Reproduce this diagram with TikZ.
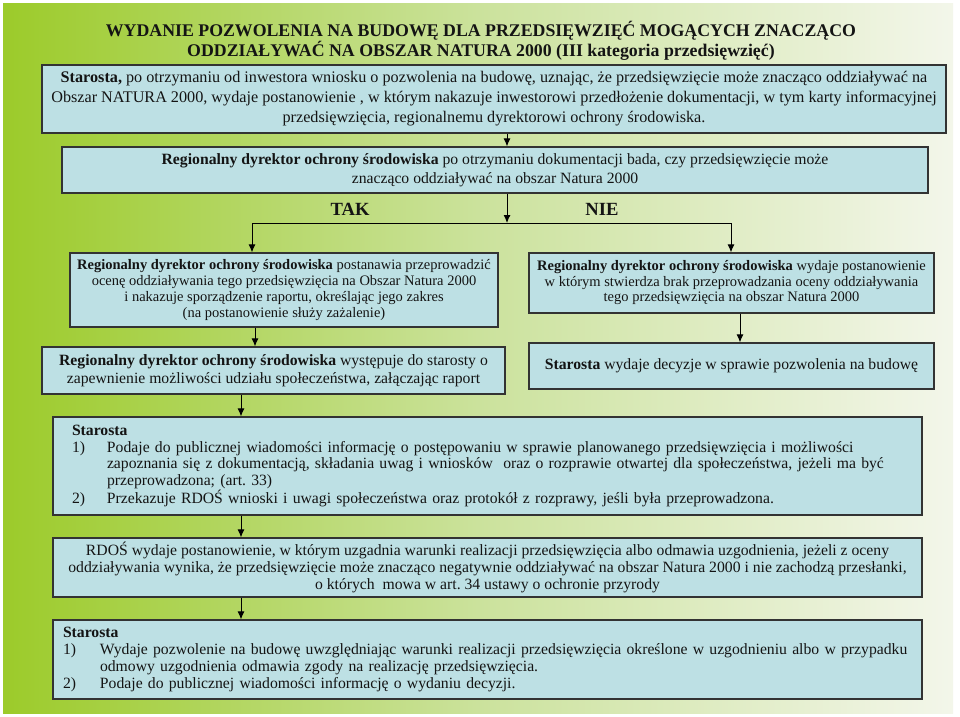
\documentclass[tikz,border=0pt]{standalone}
\usepackage{fontspec}
\setmainfont{Liberation Serif}
\usetikzlibrary{arrows.meta}
\definecolor{boxfill}{HTML}{BDE0E4}
\definecolor{boxline}{HTML}{333333}
\definecolor{gleft}{HTML}{9CCB2A}
\definecolor{gmid}{HTML}{CBE29C}
\definecolor{gright}{HTML}{F3F6EA}
\definecolor{txt}{HTML}{141414}
\frenchspacing
\begin{document}
\begin{tikzpicture}[x=1pt,y=-1pt,
  box/.style={draw=boxline, line width=1.2pt, fill=boxfill, inner sep=0pt, text=txt, align=center},
  arr/.style={-{Latex[length=8pt,width=7pt]}, line width=1pt, draw=black},
  plain/.style={line width=1pt, draw=black},
  lbl/.style={font=\fontsize{18.6}{20}\selectfont\bfseries, text=txt},
  body/.style={font=\fontsize{15.7}{#1}\selectfont},
  small/.style={font=\fontsize{14.5}{#1}\selectfont}]
\useasboundingbox (0,0) rectangle (960,716);
\fill[white] (0,0) rectangle (960,716);
\shade[left color=gleft, right color=gright, middle color=gmid] (3,3) rectangle (953,713);

\node[font=\fontsize{17.8}{19.5}\selectfont\bfseries, align=center, text=txt] (title) at (481,41)
  {WYDANIE POZWOLENIA NA BUDOWĘ DLA PRZEDSIĘWZIĘĆ MOGĄCYCH ZNACZĄCO\\
   ODDZIAŁYWAĆ NA OBSZAR NATURA 2000 (III kategoria przedsięwzięć)};

\node[box, font=\fontsize{16.2}{20}\selectfont, minimum width=904pt, minimum height=68pt] (b1) at (494,99)
  {\textbf{Starosta,} po otrzymaniu od inwestora wniosku o pozwolenia na budowę, uznając, że przedsięwzięcie może znacząco oddziaływać na\\
   Obszar NATURA 2000, wydaje postanowienie , w którym nakazuje inwestorowi przedłożenie dokumentacji, w tym karty informacyjnej\\
   przedsięwzięcia, regionalnemu dyrektorowi ochrony środowiska.};

\node[box, body=18.5, minimum width=866pt, minimum height=46pt] (b2) at (495,170)
  {\textbf{Regionalny dyrektor ochrony środowiska} po otrzymaniu dokumentacji bada, czy przedsięwzięcie może\\
   znacząco oddziaływać na obszar Natura 2000};

\node[lbl] (tak) at (350,209) {TAK};
\node[lbl] (nie) at (602,209) {NIE};

\node[box, small=15.7, minimum width=428pt, minimum height=74pt] (b3) at (284,290)
  {\textbf{Regionalny dyrektor ochrony środowiska} postanawia przeprowadzić\\
   ocenę oddziaływania tego przedsięwzięcia na Obszar Natura 2000\\
   i nakazuje sporządzenie raportu, określając jego zakres\\
   (na postanowienie służy zażalenie)};

\node[box, small=15.5, minimum width=405pt, minimum height=60pt] (b4) at (731.5,283)
  {\textbf{Regionalny dyrektor ochrony środowiska} wydaje postanowienie\\
   w którym stwierdza brak przeprowadzania oceny oddziaływania\\
   tego przedsięwzięcia na obszar Natura 2000};

\node[box, body=18, minimum width=463pt, minimum height=47pt] (b5) at (273.5,370.5)
  {\textbf{Regionalny dyrektor ochrony środowiska} występuje do starosty o\\
   zapewnienie możliwości udziału społeczeństwa, załączając raport};

\node[box, body=18, minimum width=405pt, minimum height=46pt] (b6) at (731.5,366)
  {\textbf{Starosta} wydaje decyzje w sprawie pozwolenia na budowę};

\node[box, body=16.7, minimum width=869pt, minimum height=98pt, inner xsep=19pt, text width=831pt, align=left] (b7) at (487.5,466)
  {\textbf{Starosta}\\
   \makebox[35pt][l]{1)}Podaje do publicznej wiadomości informację o postępowaniu w sprawie planowanego przedsięwzięcia i możliwości\\
   \hspace*{35pt}zapoznania się z dokumentacją, składania uwag i wniosków \ oraz o rozprawie otwartej dla społeczeństwa, jeżeli ma być\\
   \hspace*{35pt}przeprowadzona; (art. 33)\\
   \makebox[35pt][l]{2)}Przekazuje RDOŚ wnioski i uwagi społeczeństwa oraz protokół z rozprawy, jeśli była przeprowadzona.};

\node[box, body=17, minimum width=869pt, minimum height=59pt] (b8) at (487.5,567.5)
  {RDOŚ wydaje postanowienie, w którym uzgadnia warunki realizacji przedsięwzięcia albo odmawia uzgodnienia, jeżeli z oceny\\
   oddziaływania wynika, że przedsięwzięcie może znacząco negatywnie oddziaływać na obszar Natura 2000 i nie zachodzą przesłanki,\\
   o których \ mowa w art. 34 ustawy o ochronie przyrody};

\node[box, body=16.7, minimum width=869pt, minimum height=79pt, inner xsep=10pt, text width=849pt, align=left] (b9) at (487.5,659.5)
  {\textbf{Starosta}\\
   \makebox[37pt][l]{1)}Wydaje pozwolenie na budowę uwzględniając warunki realizacji przedsięwzięcia określone w uzgodnieniu albo w przypadku\\
   \hspace*{37pt}odmowy uzgodnienia odmawia zgody na realizację przedsięwzięcia.\\
   \makebox[37pt][l]{2)}Podaje do publicznej wiadomości informację o wydaniu decyzji.};

\coordinate (xm) at (507,0);
\coordinate (br) at (507,223);
\coordinate (bl) at (252,223);
\coordinate (bR) at (731,223);
\coordinate (xa) at (255,0);
\coordinate (xb) at (740,0);
\coordinate (xc) at (241,0);

\draw[arr] (b1.south -| xm) -- (b2.north -| xm);
\draw[arr] (b2.south -| xm) -- (br);
\draw[plain] (bl) -- (bR);
\draw[arr] (bl) -- (bl |- b3.north);
\draw[arr] (bR) -- (bR |- b4.north);
\draw[arr] (b3.south -| xa) -- (b5.north -| xa);
\draw[arr] (b4.south -| xb) -- (b6.north -| xb);
\draw[arr] (b5.south -| xc) -- (b7.north -| xc);
\draw[arr] (b7.south -| xc) -- (b8.north -| xc);
\draw[arr] (b8.south -| xc) -- (b9.north -| xc);
\end{tikzpicture}
\end{document}
